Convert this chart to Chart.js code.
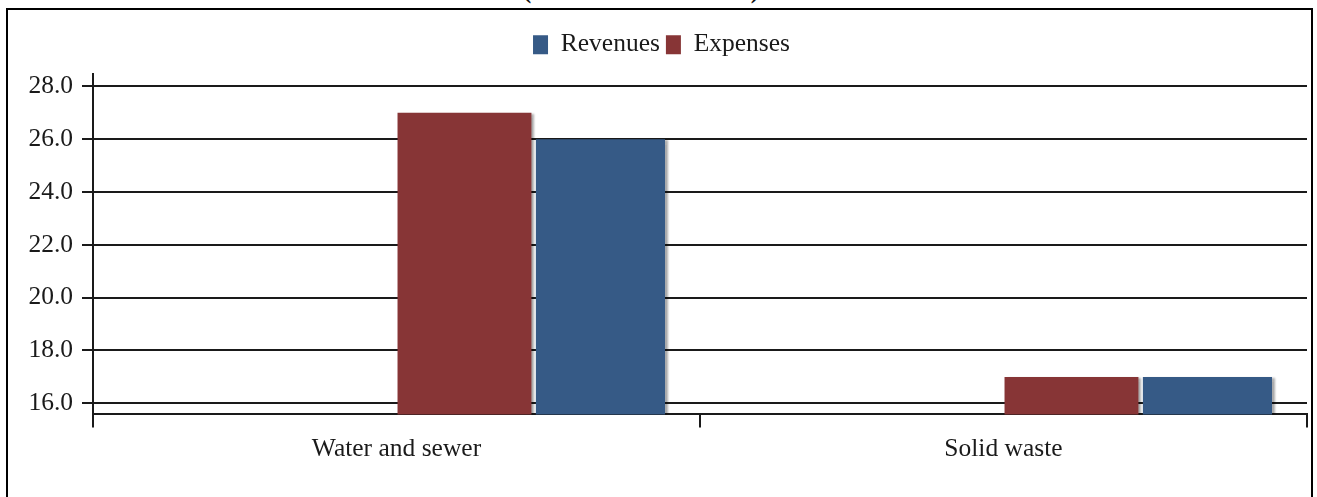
<!DOCTYPE html>
<html>
<head>
<meta charset="utf-8">
<script src="https://cdn.jsdelivr.net/npm/chart.js@4.4.1/dist/chart.umd.min.js"></script>
<style>
  html, body { margin: 0; padding: 0; background: #fff; width: 1317px; height: 497px; overflow: hidden; }
  #frame { position: absolute; left: 6px; top: 8px; height: 600px; border: 2px solid #000; box-sizing: border-box; width: 1307px; pointer-events: none; }
  #title { position: absolute; left: 0; width: 1282px; top: -23px; text-align: center; font: bold 25.5px "Liberation Serif", serif; line-height: 1; color: #111; }
  #wrap { position: absolute; left: 0; top: 0; width: 1317px; height: 497px; }
</style>
</head>
<body>
<div id="title">(Amounts in millions)</div>
<div id="wrap"><canvas id="c" width="1317" height="497"></canvas></div>
<div id="frame"></div>
<script>
const categories = ['Water and sewer', 'Solid waste'];
const expenses = [27.0, 17.0];
const revenues = [26.0, 17.0];
const yTicks = [16, 18, 20, 22, 24, 26, 28];

const RED = '#873536';
const BLUE = '#365A86';
const FONT = { family: '"Liberation Serif", "Times New Roman", serif', size: 25.5 };

const shadowPlugin = {
  id: 'barShadow',
  beforeDatasetsDraw(chart) {
    const ctx = chart.ctx;
    ctx.save();
    ctx.shadowColor = 'rgba(0,0,0,0.32)';
    ctx.shadowOffsetX = 3;
    ctx.shadowOffsetY = 1;
    ctx.shadowBlur = 2;
  },
  afterDatasetsDraw(chart) { chart.ctx.restore(); }
};

const legendSpace = {
  id: 'legendSpace',
  beforeInit(chart) {
    const orig = chart.legend.fit;
    chart.legend.fit = function () { orig.call(this); this.height += 6; };
  }
};

new Chart(document.getElementById('c'), {
  type: 'bar',
  data: {
    labels: categories,
    datasets: [
      { label: '_pad1', data: [], backgroundColor: 'rgba(0,0,0,0)' },
      { label: '_pad2', data: [], backgroundColor: 'rgba(0,0,0,0)' },
      { label: 'Expenses', data: expenses, backgroundColor: RED, borderWidth: 0, barPercentage: 0.985 },
      { label: 'Revenues', data: revenues, backgroundColor: BLUE, borderWidth: 0, barPercentage: 0.95 }
    ]
  },
  options: {
    responsive: false,
    animation: false,
    layout: { padding: { left: 16, right: 10, top: 26, bottom: 25 } },
    datasets: { bar: { categoryPercentage: 0.896 } },
    plugins: {
      tooltip: { enabled: false },
      legend: {
        position: 'top',
        reverse: true,
        labels: {
          filter: (item) => !item.text.startsWith('_'),
          boxWidth: 15,
          boxHeight: 19,
          padding: 6,
          color: '#1a1a1a',
          font: FONT
        }
      }
    },
    scales: {
      x: {
        offset: true,
        grid: { offset: true, drawOnChartArea: false, drawTicks: true, tickLength: 13, color: '#1a1a1a', lineWidth: 2 },
        border: { display: true, color: '#1a1a1a', width: 2 },
        ticks: { color: '#1a1a1a', font: FONT, padding: 7, maxRotation: 0 }
      },
      y: {
        min: 15.58,
        max: 28.49,
        afterFit(scale) { scale.width = 77; },
        afterBuildTicks(scale) { scale.ticks = yTicks.map(v => ({ value: v })); },
        grid: { color: '#1a1a1a', lineWidth: 2, tickLength: 11 },
        border: { display: true, color: '#1a1a1a', width: 2 },
        ticks: { color: '#1a1a1a', font: FONT, padding: 9, stepSize: 2, includeBounds: false,
                 callback: (v) => Number(v).toFixed(1) }
      }
    }
  },
  plugins: [shadowPlugin, legendSpace]
});
</script>
</body>
</html>
